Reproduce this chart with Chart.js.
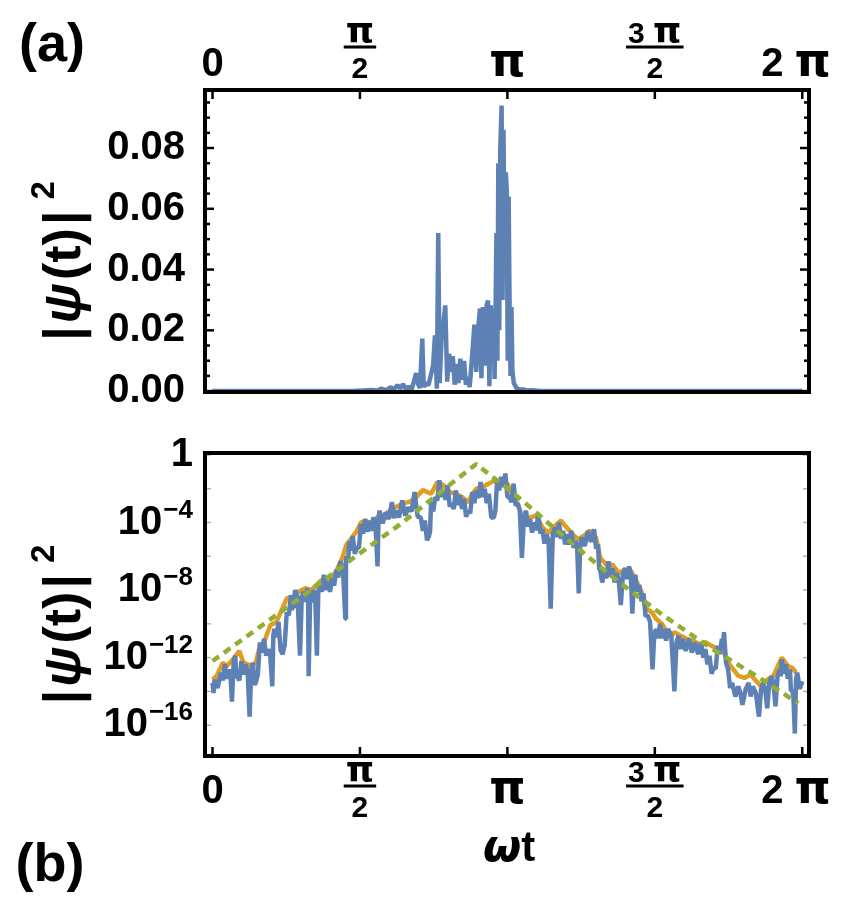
<!DOCTYPE html>
<html><head><meta charset="utf-8">
<script src="https://cdn.jsdelivr.net/npm/chart.js@4.4.0/dist/chart.umd.min.js"></script>
<style>
html,body{margin:0;padding:0;background:#fff;}
#wrap{position:relative;width:848px;height:911px;overflow:hidden;}
canvas{position:absolute;left:0;top:0;}
</style></head><body>
<div id="wrap">
<canvas id="c1" width="848" height="911"></canvas>
<canvas id="c2" width="848" height="911"></canvas>
</div>
<script>
const PI = Math.PI;
// x ticks (omega t)
const xTickValues = [0, PI/2, PI, 3*PI/2, 2*PI];
const xTickLabels = ['0', 'π/2', 'π', '3 π/2', '2 π'];
// panel (a) y ticks
const topYTicks = [0, 0.02, 0.04, 0.06, 0.08];
const topYLabels = ['0.00', '0.02', '0.04', '0.06', '0.08'];
// panel (b) y ticks
const logYTicks = [1, 1e-4, 1e-8, 1e-12, 1e-16];
const logYLabels = ['1', '10^-4', '10^-8', '10^-12', '10^-16'];

// panel (a): |psi(t)|^2, linear
const topT = [0,0.5,1.0,1.5,1.6,1.7,1.75,1.8,1.85,1.9,1.93,1.97,2.0,2.03,2.06,2.09,2.12,2.15,2.17,2.19,2.21,2.235,2.25,2.27,2.30,2.33,2.35,2.37,2.39,2.405,2.42,2.44,2.46,2.48,2.50,2.52,2.54,2.56,2.58,2.60,2.62,2.64,2.66,2.68,2.70,2.72,2.74,2.77,2.79,2.81,2.83,2.85,2.865,2.88,2.90,2.92,2.935,2.95,2.965,2.98,2.995,3.005,3.015,3.025,3.035,3.045,3.055,3.065,3.08,3.09,3.10,3.11,3.125,3.135,3.145,3.155,3.165,3.175,3.185,3.195,3.21,3.24,3.27,3.30,3.35,3.40,3.5,4.0,5.0,6.283];
const topPsi = [0,0,0,0,0.0002,0.0004,0.0002,0.0008,0.0003,0.0013,0.0005,0.0019,0.0008,0.0023,0.0006,0.0015,0.0004,0.0037,0.0059,0.0023,0.001,0.0173,0.0013,0.0026,0.0019,0.0057,0.0084,0.0183,0.0008,0.052,0.0026,0.0172,0.0225,0.0282,0.0031,0.0123,0.0063,0.0115,0.0021,0.0089,0.0026,0.0107,0.0037,0.0099,0.0021,0.0047,0.0013,0.0131,0.0219,0.0063,0.0204,0.0272,0.0042,0.0277,0.0084,0.0282,0.0298,0.0016,0.0282,0.0125,0.0272,0.004,0.025,0.052,0.01,0.075,0.02,0.079,0.094,0.03,0.086,0.05,0.072,0.066,0.01,0.064,0.028,0.005,0.0277,0.0068,0.0026,0.001,0.0004,0.0006,0.0002,0.0003,0,0,0,0];

// panel (b): blue, log scale
const blueT = [0.0,0.011,0.022,0.055,0.088,0.110,0.132,0.154,0.176,0.192,0.207,0.225,0.242,0.253,0.264,0.286,0.308,0.330,0.352,0.374,0.395,0.413,0.431,0.446,0.461,0.483,0.505,0.527,0.549,0.571,0.593,0.615,0.637,0.648,0.659,0.681,0.703,0.725,0.747,0.769,0.791,0.813,0.835,0.846,0.857,0.868,0.879,0.906,0.932,0.950,0.967,0.989,1.011,1.018,1.024,1.040,1.055,1.066,1.077,1.095,1.112,1.127,1.142,1.164,1.186,1.208,1.230,1.252,1.274,1.296,1.318,1.340,1.362,1.389,1.415,1.422,1.428,1.444,1.459,1.477,1.494,1.516,1.538,1.560,1.582,1.604,1.626,1.648,1.670,1.692,1.714,1.736,1.758,1.769,1.780,1.813,1.845,1.878,1.911,1.933,1.955,1.988,2.021,2.054,2.087,2.120,2.153,2.186,2.219,2.241,2.263,2.285,2.307,2.318,2.329,2.351,2.373,2.395,2.417,2.439,2.461,2.483,2.505,2.527,2.549,2.571,2.592,2.614,2.636,2.658,2.680,2.702,2.724,2.746,2.768,2.790,2.812,2.834,2.856,2.878,2.900,2.922,2.944,2.970,2.997,3.014,3.032,3.054,3.076,3.098,3.120,3.142,3.164,3.186,3.208,3.230,3.252,3.274,3.296,3.318,3.340,3.362,3.383,3.405,3.427,3.449,3.471,3.493,3.515,3.537,3.559,3.581,3.603,3.625,3.647,3.669,3.691,3.713,3.735,3.757,3.779,3.801,3.823,3.845,3.867,3.885,3.902,3.918,3.933,3.966,3.999,4.032,4.065,4.087,4.108,4.119,4.130,4.152,4.174,4.196,4.218,4.240,4.262,4.284,4.306,4.328,4.350,4.372,4.394,4.416,4.438,4.456,4.473,4.489,4.504,4.526,4.548,4.570,4.592,4.614,4.636,4.662,4.688,4.706,4.724,4.746,4.768,4.790,4.811,4.833,4.855,4.888,4.921,4.943,4.965,4.987,5.009,5.042,5.075,5.108,5.141,5.174,5.207,5.229,5.251,5.273,5.295,5.317,5.339,5.361,5.383,5.405,5.427,5.438,5.449,5.471,5.493,5.515,5.537,5.570,5.602,5.624,5.646,5.679,5.712,5.734,5.756,5.789,5.822,5.844,5.866,5.888,5.910,5.932,5.954,5.976,5.998,6.020,6.042,6.053,6.064,6.086,6.108,6.130,6.152,6.163,6.174,6.189,6.204,6.217,6.230,6.257,6.283];
const bluePsi = [3.2e-14,7.9e-15,5.0e-14,1.6e-14,1.3e-13,4.5e-14,4.0e-13,5.6e-14,2.0e-13,7.9e-14,2.5e-15,5.0e-13,1.3e-12,6.3e-14,7.9e-14,4.5e-14,6.3e-13,1e-13,4.0e-13,1.6e-13,3.2e-16,2.0e-13,5.0e-13,2.5e-14,3.2e-14,1e-13,7.9e-12,2.0e-12,1.3e-11,1.3e-12,3.2e-12,1.3e-12,2.0e-14,2.0e-11,5.0e-11,1.6e-11,1.3e-10,2.8e-12,1.6e-12,5.6e-12,5.0e-10,3.2e-10,5.0e-9,6.3e-10,2.0e-9,8.9e-10,1e-8,4.0e-9,1.3e-12,3.2e-9,7.9e-9,2.0e-9,1.3e-8,5.0e-9,7.9e-14,3.2e-9,7.9e-9,1.8e-9,1e-8,4.0e-9,1.3e-12,7.9e-9,2.0e-8,7.9e-9,7.9e-8,1e-8,3.2e-8,7.9e-9,5.0e-8,1.8e-8,1.6e-7,5.6e-8,5.0e-7,2.0e-7,2.0e-10,4.0e-7,1e-6,5.6e-7,7.9e-6,2.2e-6,1.6e-5,1.4e-6,3.2e-6,3.2e-6,7.9e-5,2.2e-5,1.6e-4,2.8e-5,1.3e-4,3.2e-5,2.0e-4,7.9e-5,2.5e-7,2.0e-4,5.0e-4,8.9e-5,4.0e-4,1.6e-4,1.6e-3,1.8e-4,5.0e-4,2.0e-4,2.0e-3,2.5e-4,7.9e-4,4.5e-4,6.3e-3,2.2e-4,2.0e-4,3.2e-5,1.3e-4,8.9e-6,1.6e-5,3.2e-5,1.6e-3,4.5e-4,3.2e-3,2.0e-3,3.2e-2,3.2e-3,7.9e-3,2.2e-3,1.6e-2,8.9e-4,1.3e-3,6.3e-4,7.9e-3,1.1e-3,4.0e-3,6.3e-4,2.5e-3,2.2e-4,5.0e-4,3.5e-4,6.3e-3,1.4e-3,7.9e-3,2.8e-3,2.5e-2,3.2e-3,1e-2,1.4e-3,5.0e-3,2.0e-4,2.0e-4,5.0e-4,3.2e-2,7.9e-3,5.0e-2,1.3e-2,7.9e-2,3.2e-3,3.2e-3,1.6e-3,2.0e-2,1e-3,1.3e-3,5.0e-4,7.9e-7,2.0e-4,5.0e-4,5.6e-5,1.6e-4,2.5e-5,1e-4,3.5e-5,3.2e-4,2.2e-5,4.0e-5,5.6e-6,2.0e-5,7.9e-6,7.9e-10,2.0e-5,5.0e-5,1.4e-5,1e-4,1.1e-5,3.2e-5,5.0e-6,2.0e-5,5.0e-6,3.2e-5,3.2e-6,7.9e-6,3.2e-6,6.3e-9,5.0e-6,1.3e-5,4.0e-6,3.2e-5,7.1e-6,4.0e-5,2.8e-6,5.0e-6,1.8e-7,1.6e-7,2.8e-8,1.3e-7,5.0e-8,5.0e-7,6.3e-8,2.0e-7,2.8e-8,1e-7,4.0e-8,1.3e-9,7.9e-8,2.0e-7,4.5e-8,2.5e-7,1e-7,4.0e-10,3.2e-8,7.9e-8,7.9e-9,2.0e-8,2.2e-9,6.3e-9,2.8e-10,3.2e-10,1.3e-10,2.0e-13,2.0e-11,5.0e-11,1.4e-11,1e-10,1.4e-11,5.0e-11,1e-11,5.0e-11,2.0e-11,1e-14,7.9e-12,2.0e-11,3.2e-12,1.3e-11,2.5e-12,1.3e-11,2.0e-12,7.9e-12,1.6e-12,7.9e-12,1e-12,3.2e-12,4.0e-13,1.3e-12,1.1e-13,2.5e-13,2.2e-13,5.0e-12,1.6e-12,1.3e-11,4.0e-12,3.2e-11,5.0e-13,2.0e-13,1.6e-14,3.2e-14,5.0e-15,2.0e-14,7.9e-15,1.6e-15,1.3e-14,3.2e-14,5.0e-15,2.0e-14,7.9e-15,3.2e-16,1.3e-14,3.2e-14,1.3e-14,1e-15,3.2e-14,7.9e-14,3.2e-14,1.3e-15,7.9e-14,2.0e-13,7.9e-14,7.9e-13,1.1e-13,4.0e-13,5.6e-14,2.0e-13,1e-14,1.3e-14,5.0e-15,3.2e-17,5.0e-14,1.3e-13,1.4e-14,4.0e-14];

// panel (b): orange
const orangeT = [0.0,0.044,0.110,0.154,0.220,0.286,0.330,0.417,0.461,0.505,0.549,0.615,0.681,0.791,0.857,0.923,0.989,1.055,1.142,1.208,1.252,1.318,1.384,1.428,1.472,1.538,1.582,1.626,1.692,1.758,1.824,1.889,1.955,2.021,2.087,2.153,2.241,2.329,2.395,2.461,2.527,2.592,2.658,2.724,2.768,2.812,2.878,2.944,3.010,3.076,3.142,3.208,3.252,3.317,3.383,3.449,3.515,3.581,3.647,3.713,3.757,3.823,3.889,3.955,4.020,4.086,4.130,4.196,4.262,4.328,4.394,4.460,4.526,4.570,4.614,4.680,4.724,4.789,4.877,4.921,4.987,5.053,5.119,5.185,5.251,5.317,5.383,5.449,5.493,5.537,5.602,5.668,5.734,5.778,5.844,5.910,5.976,6.064,6.130,6.174,6.218];
const orangePsi = [5.0e-14,8.2e-14,5.0e-13,3.2e-13,8.2e-13,2.5e-12,5.0e-13,3.2e-13,5.0e-13,5.0e-12,8.2e-12,8.2e-11,1.3e-10,3.2e-9,4.0e-9,8.2e-9,1.3e-8,1e-8,3.2e-8,5.0e-8,4.0e-8,1.3e-7,8.2e-7,5.0e-6,1e-5,3.2e-5,1e-4,1.3e-4,8.2e-5,2.0e-4,2.5e-4,5.0e-4,8.2e-4,1.3e-3,1.6e-3,2.5e-3,8.2e-3,5.0e-3,2.5e-2,1.6e-2,6.3e-3,5.0e-3,3.2e-3,1.6e-3,5.0e-3,1e-2,1.3e-2,2.0e-2,3.2e-2,2.5e-2,2.0e-2,3.2e-3,1.3e-3,1e-4,2.0e-4,2.5e-4,5.0e-5,2.5e-5,6.3e-5,1.3e-4,6.3e-5,2.5e-5,1e-5,1.6e-5,3.2e-5,1.3e-5,8.2e-7,3.2e-7,3.2e-7,1e-7,1.6e-7,1.3e-7,2.5e-8,8.2e-9,8.2e-10,5.0e-10,2.0e-10,1e-10,1.6e-11,3.2e-11,2.0e-11,1.3e-11,1e-11,6.3e-12,8.2e-12,5.0e-12,3.2e-12,2.0e-12,5.0e-13,2.5e-13,8.2e-14,6.3e-14,1e-13,5.0e-14,2.0e-14,5.0e-14,8.2e-14,1e-12,3.2e-13,2.5e-13,1.3e-13];

// panel (b): green dashed
const greenT = [0,0.5,1.0,1.5,2.0,2.5,2.81,3.3,3.8,4.3,4.8,5.3,5.8,6.24];
const greenPsi = [6.3e-13,6.3e-11,6.3e-9,7.9e-7,7.9e-5,1.3e-2,0.29,2.0e-3,7.9e-6,4.0e-8,3.2e-10,4.0e-12,7.9e-14,2.0e-15];

const FONT = "'Liberation Sans', Arial, Helvetica, sans-serif";
const SYM = "'DejaVu Sans', sans-serif";
const BLUE = '#5E81B5', ORANGE = '#E19C24', GREEN = '#8FB032';

function pts(xs, ys){ const n = Math.min(xs.length, ys.length); const out = []; for (let i = 0; i < n; i++) out.push({x: xs[i], y: ys[i]}); return out; }

function runsOf(str){
  const runs = [];
  for (const ch of str){
    const sym = (ch === 'π');
    if (runs.length && runs[runs.length-1].sym === sym) runs[runs.length-1].t += ch;
    else runs.push({t: ch, sym: sym});
  }
  return runs;
}
function rich(ctx, str, cx, baseline, size, symSize, maxRight, doDraw){
  const runs = runsOf(str);
  let total = 0;
  runs.forEach(r => { ctx.font = r.sym ? ('bold ' + symSize + 'px ' + SYM) : ('bold ' + size + 'px ' + FONT); r.w = ctx.measureText(r.t).width; total += r.w; });
  let x = cx - total/2;
  if (maxRight && x + total > maxRight) x = maxRight - total;
  if (doDraw !== false){
    ctx.textAlign = 'left'; ctx.textBaseline = 'alphabetic';
    runs.forEach(r => { ctx.font = r.sym ? ('bold ' + symSize + 'px ' + SYM) : ('bold ' + size + 'px ' + FONT); ctx.fillText(r.t, x, baseline); x += r.w; });
  }
  return total;
}

function drawXLabels(ctx, xs, mainBase, barY){
  ctx.fillStyle = '#000';
  xTickValues.forEach((v,i)=>{
    const px = xs.getPixelForValue(v);
    const lab = xTickLabels[i];
    if (lab.indexOf('/') >= 0){
      const parts = lab.split('/');
      const w = rich(ctx, parts[0], px, barY - 4, 30, 36, 0, false);
      rich(ctx, parts[0], px, barY - 4, 30, 36);
      ctx.fillRect(px - w/2 - 2, barY - 1.5, w + 4, 3);
      rich(ctx, parts[1], px, barY + 31, 30, 36);
    } else {
      rich(ctx, lab, px, mainBase, 40, 46, 831);
    }
  });
}

function drawYTitle(ctx, cx, cy){
  const parts = [
    {t:'|', f:'bold 52px ' + FONT, dy:0, g:3},
    {t:'ψ', f:'italic bold 52px ' + FONT, dy:0, g:3},
    {t:'(t)', f:'bold 52px ' + FONT, dy:0, g:3},
    {t:'|', f:'bold 52px ' + FONT, dy:0, g:11},
    {t:'2', f:'bold 33px ' + FONT, dy:-21, g:0}
  ];
  ctx.save();
  ctx.translate(cx, cy); ctx.rotate(-Math.PI/2);
  ctx.fillStyle = '#000'; ctx.textBaseline = 'middle'; ctx.textAlign = 'left';
  let total = 0;
  parts.forEach(p=>{ ctx.font = p.f; p.w = ctx.measureText(p.t).width; total += p.w + p.g; });
  let x = -total/2;
  parts.forEach(p=>{ ctx.font = p.f; ctx.fillText(p.t, x, p.dy); x += p.w + p.g; });
  ctx.restore();
}

function drawLogLabels(ctx, ys, xRight){
  ctx.fillStyle = '#000'; ctx.textBaseline = 'middle'; ctx.textAlign = 'right';
  logYTicks.forEach((v,i)=>{
    const py = ys.getPixelForValue(v);
    const lab = logYLabels[i];
    if (lab.indexOf('^') < 0){
      ctx.font = 'bold 40px ' + FONT; ctx.fillText(lab, xRight, py);
    } else {
      const parts = lab.split('^');
      const ex = parts[1].replace('-', '−');
      ctx.font = 'bold 26px ' + FONT;
      const we = ctx.measureText(ex).width;
      ctx.fillText(ex, xRight, py - 12);
      ctx.font = 'bold 40px ' + FONT;
      ctx.fillText(parts[0], xRight - we - 1, py);
    }
  });
}

const framePlugin = {
  id: 'framePlugin',
  afterDraw(chart, args, opts){
    const ctx = chart.ctx, ca = chart.chartArea;
    const xs = chart.scales.x, ys = chart.scales.y;
    ctx.save();
    ctx.strokeStyle = '#000'; ctx.lineWidth = 2.5;
    if (opts.panel === 'a'){
      xTickValues.forEach(v=>{
        const px = xs.getPixelForValue(v);
        ctx.beginPath(); ctx.moveTo(px, ca.top); ctx.lineTo(px, ca.top + 9); ctx.stroke();
      });
      for (let k = 0; k <= 19; k++){
        const v = k * 0.005;
        const py = ys.getPixelForValue(v);
        const len = (k % 4 === 0) ? 9 : 5;
        ctx.beginPath(); ctx.moveTo(ca.left, py); ctx.lineTo(ca.left + len, py); ctx.stroke();
        ctx.beginPath(); ctx.moveTo(ca.right, py); ctx.lineTo(ca.right - len, py); ctx.stroke();
      }
      drawXLabels(ctx, xs, 76, 47);
      drawYTitle(ctx, 66, (ca.top + ca.bottom)/2 + 20);
      ctx.fillStyle = '#000'; ctx.textAlign = 'center'; ctx.textBaseline = 'middle';
      ctx.font = 'bold 54px ' + FONT; ctx.fillText('(a)', 52, 46);
    } else {
      xTickValues.forEach(v=>{
        const px = xs.getPixelForValue(v);
        ctx.beginPath(); ctx.moveTo(px, ca.bottom); ctx.lineTo(px, ca.bottom - 9); ctx.stroke();
      });
      ctx.strokeStyle = '#b0b0b0'; ctx.lineWidth = 1.5;
      for (let e = 0; e >= -16; e -= 2){
        const py = ys.getPixelForValue(Math.pow(10, e));
        ctx.beginPath(); ctx.moveTo(ca.left, py); ctx.lineTo(ca.left + 6, py); ctx.stroke();
        ctx.beginPath(); ctx.moveTo(ca.right, py); ctx.lineTo(ca.right - 6, py); ctx.stroke();
      }
      drawLogLabels(ctx, ys, 193);
      drawXLabels(ctx, xs, 803, 786);
      drawYTitle(ctx, 66, (ca.top + ca.bottom)/2 + 20);
      ctx.fillStyle = '#000'; ctx.textBaseline = 'alphabetic'; ctx.textAlign = 'left';
      ctx.font = 'oblique bold 44px ' + SYM;
      const w1 = ctx.measureText('ω').width;
      ctx.font = 'bold 42px ' + FONT;
      const w2 = ctx.measureText('t').width;
      const x0 = 509 - (w1 + w2)/2;
      ctx.font = 'oblique bold 44px ' + SYM; ctx.fillText('ω', x0, 861);
      ctx.font = 'bold 42px ' + FONT; ctx.fillText('t', x0 + w1, 861);
      ctx.textAlign = 'center'; ctx.textBaseline = 'middle';
      ctx.font = 'bold 54px ' + FONT; ctx.fillText('(b)', 50, 866);
    }
    ctx.strokeStyle = '#000'; ctx.lineWidth = 4;
    ctx.strokeRect(ca.left, ca.top, ca.right - ca.left, ca.bottom - ca.top);
    ctx.restore();
  }
};

const common = {
  responsive: false, animation: false, devicePixelRatio: 1,
  events: [],
  elements: { point: { radius: 0 }, line: { tension: 0, borderJoinStyle: 'bevel', fill: false } }
};

new Chart(document.getElementById('c1'), {
  type: 'line',
  data: { datasets: [
    { label: '|ψ(t)|²', data: pts(topT, topPsi), borderColor: BLUE, borderWidth: 4.5 }
  ]},
  options: Object.assign({}, common, {
    layout: { padding: { left: 0, right: 39, top: 90, bottom: 911 - 392 } },
    plugins: { legend: { display: false }, tooltip: { enabled: false }, framePlugin: { panel: 'a' } },
    scales: {
      x: { type: 'linear', min: -0.08, max: 6.355, display: false },
      y: { type: 'linear', min: -0.0003, max: 0.0991,
           afterBuildTicks: s => { s.ticks = topYTicks.map(v => ({ value: v })); },
           afterFit: s => { s.width = 205; },
           grid: { display: false }, border: { display: false },
           ticks: { autoSkip: false, padding: 12, color: '#000',
                    font: { family: "'Liberation Sans', Arial, sans-serif", weight: 'bold', size: 40 },
                    callback: (v, i) => topYLabels[i] } }
    }
  }),
  plugins: [framePlugin]
});

new Chart(document.getElementById('c2'), {
  type: 'line',
  data: { datasets: [
    { label: 'bound', data: pts(greenT, greenPsi), borderColor: GREEN, borderWidth: 4.5, borderDash: [8, 6], order: 0 },
    { label: 'exact', data: pts(blueT, bluePsi), borderColor: BLUE, borderWidth: 4.5, order: 1 },
    { label: 'envelope', data: pts(orangeT, orangePsi), borderColor: ORANGE, borderWidth: 4.5, order: 2 }
  ]},
  options: Object.assign({}, common, {
    layout: { padding: { left: 205, right: 39, top: 453, bottom: 911 - 756 } },
    plugins: { legend: { display: false }, tooltip: { enabled: false }, framePlugin: { panel: 'b' } },
    scales: {
      x: { type: 'linear', min: -0.08, max: 6.355, display: false },
      y: { type: 'logarithmic', min: 1.5e-18, max: 1.3, display: false }
    }
  }),
  plugins: [framePlugin]
});
</script>
</body></html>
